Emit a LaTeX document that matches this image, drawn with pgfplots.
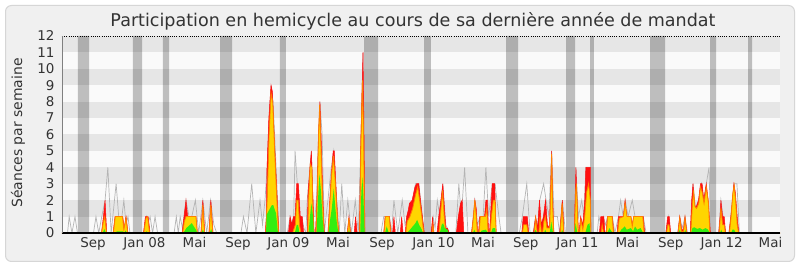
\documentclass[border=0pt]{standalone}
\usepackage{fontspec}
\setmainfont{DejaVu Sans}
\usepackage{pgfplots}
\pgfplotsset{compat=1.18}
\definecolor{outbg}{HTML}{F0F0F0}
\definecolor{framec}{HTML}{D6D6D6}
\definecolor{plotbg}{HTML}{FAFAFA}
\definecolor{bandc}{HTML}{E6E6E6}
\definecolor{greyc}{HTML}{B4B4B4}
\definecolor{redc}{HTML}{FF1010}
\definecolor{yelc}{HTML}{FFD500}
\definecolor{orac}{HTML}{FF7F00}
\definecolor{grnc}{HTML}{33EE11}
\definecolor{textc}{HTML}{333333}
\begin{document}
\begin{tikzpicture}
\useasboundingbox (0,0) rectangle (800bp,267bp);
\fill[white] (0,0) rectangle (800bp,267bp);
\draw[fill=outbg, draw=framec, line width=1bp, rounded corners=6bp] (5.5bp,5.5bp) rectangle (794.5bp,261.5bp);
\node[anchor=base, text=textc, font=\fontsize{17.6}{17.6}\selectfont] at (413bp,240.5bp) {Participation en hemicycle au cours de sa dernière année de mandat};
\node[rotate=90, text=textc, font=\fontsize{14}{14}\selectfont] at (18bp,134bp) {Séances par semaine};
\begin{axis}[
  at={(62bp,34bp)}, anchor=south west,
  scale only axis, width=718bp, height=197bp,
  xmin=0, xmax=260, ymin=0, ymax=12,
  enlargelimits=false,
  axis on top,
  axis x line*=bottom, axis y line*=left,
  x axis line style={-, black, line width=1.3bp},
  y axis line style={-, gray, line width=0.8bp},
  axis background/.style={fill=plotbg},
  major tick length=0pt,
  tick style={draw=none},
  ytick={0,1,2,3,4,5,6,7,8,9,10,11,12},
  xtick={11.23,29.87,47.98,63.73,82.02,99.95,115.88,134.53,152.46,167.95,186.67,204.71,220.46,238.89,256.56},
  xticklabels={Sep,Jan 08,Mai,Sep,Jan 09,Mai,Sep,Jan 10,Mai,Sep,Jan 11,Mai,Sep,Jan 12,Mai},
  /pgf/number format/assume math mode=true,
  tick label style={text=textc, font=\fontsize{13.5}{13.5}\selectfont},
  yticklabel style={xshift=-4bp},
  xticklabel style={yshift=-1bp},
]
% bands
\addplot[draw=none, fill=bandc] coordinates {(0,1)(260,1)(260,2)(0,2)} --cycle;
\addplot[draw=none, fill=bandc] coordinates {(0,3)(260,3)(260,4)(0,4)} --cycle;
\addplot[draw=none, fill=bandc] coordinates {(0,5)(260,5)(260,6)(0,6)} --cycle;
\addplot[draw=none, fill=bandc] coordinates {(0,7)(260,7)(260,8)(0,8)} --cycle;
\addplot[draw=none, fill=bandc] coordinates {(0,9)(260,9)(260,10)(0,10)} --cycle;
\addplot[draw=none, fill=bandc] coordinates {(0,11)(260,11)(260,12)(0,12)} --cycle;
% vacation periods
\addplot[draw=none, fill=black, fill opacity=0.24] coordinates {
(5.79,0)(5.79,12)(9.78,12)(9.78,0)
(25.71,0)(25.71,12)(28.97,12)(28.97,0)
(36.57,0)(36.57,12)(38.75,12)(38.75,0)
(57.22,0)(57.22,12)(61.56,12)(61.56,0)
(78.94,0)(78.94,12)(81.11,12)(81.11,0)
(109.36,0)(109.36,12)(114.43,12)(114.43,0)
(131.09,0)(131.09,12)(133.62,12)(133.62,0)
(160.78,0)(160.78,12)(165.13,12)(165.13,0)
(182.51,0)(182.51,12)(185.77,12)(185.77,0)
(191.2,0)(191.2,12)(192.64,12)(192.64,0)
(212.93,0)(212.93,12)(218.36,12)(218.36,0)
(234.66,0)(234.66,12)(236.83,12)(236.83,0)
(248.42,0)(248.42,12)(249.86,12)(249.86,0)} --cycle;
% total sessions (grey)
\addplot[draw=greyc, line width=0.7bp] coordinates {
(0,0)(2,0)(2.6,1)(3.6,0)(4.7,1)(5.6,0)
(11.4,0)(12.3,1)(13.3,0)(14.4,1)(15.6,2)(16.6,4)(17.8,0)(19.6,3)(21,0)(22.4,2)(23.2,0.5)(23.9,1)(24.6,0)
(29.8,0)(30.6,1)(31.2,0.6)(31.9,1)(32.8,0)(33.7,1)(34.6,0)
(40.6,0)(41.4,1)(42.1,0)(42.8,1)(43.6,0.3)(44.9,2)(46,1)(47,1)(48.3,2)(49.5,0)(51,2)(52.4,0)(53.8,2)(55,0.5)(56,0)
(64.8,0)(65.7,1)(67,0)(68.7,3)(70.2,0)(71.7,2)(72.6,0.5)(73.5,2)(74.3,4)(75,7)(75.7,9)(76.4,8)(77,6)(77.8,3)(78.6,0)
(81.6,0)(82.6,1)(83.3,0.5)(83.9,1)(84.4,5)(85.2,3)(86,1)(86.8,1)(87.6,0.3)(88.3,0)
(88.8,2)(89.8,4)(90.3,5)(91,1)(91.6,1)(92.2,2)(92.9,6)(93.4,8)(94.2,6)(95,0)(95.6,1)(96.3,2)(97.5,4)(98.4,5)(99.5,2)(100.4,0)(101.3,3)(102.4,0)(103.5,2)(104.8,0)(106.2,2)(107.3,0)(108.2,5.5)(109,11)(109.6,0)
(115.5,0)(116.5,1)(118.6,1)(119.3,0)(120.2,2)(121.6,0)(123.2,2)(124.2,0.5)(125,1)(126,1.5)(127,2)(128,3)(129.2,3)(130.5,1)(131.2,0)
(133.7,0)(134.4,1)(135.1,0.3)(135.9,2)(136.8,1)(137.9,3)(139,0.5)(140.2,0)(142.6,0)(143.7,3)(144.6,1)(145.8,4)(147,0)(148.3,0)(149.5,2)(150.5,0.5)(151.3,1)(152.5,1)(153.5,4)(154.5,1)(155.8,3)(156.8,3)(158.2,1)(159,0)
(165.6,0)(166.7,1)(168.3,3)(169.5,0)(170.6,0)(171.5,1)(172.2,0.3)(173,2)(174.4,3)(175.3,2)(176.3,1)(177.3,5)(178.2,1)(179.4,1)(180.2,0)(181.2,2)(182.3,0)
(185.6,0)(186.1,4)(187,1)(188.2,2)(189,1)(189.7,4)(191.3,4)(191.5,0)
(193.8,0)(194.4,1)(195.2,0.5)(196,1)(196.8,0.5)(197.6,1)(199.3,1)(200.2,0)(201.5,1)(202.3,2)(203.2,1)(204,2)(205,1)(206.5,2)(207.5,1)(210.5,1)(211.5,0)
(218.6,0)(219.6,1)(220.4,0)(223,0)(223.7,1)(224.6,0.3)(225.6,1)(226.5,0)(227.6,0)(228.5,3)(229.4,1.5)(230.5,2)(231.6,3)(232.4,2)(233.3,3)(234.3,4)(234.9,0)
(237.8,0)(238.6,2)(239.4,1)(240.3,0)(241.5,0)(242.5,1.5)(243.3,3)(244.4,3)(245.3,0)(260,0)};
% presence (red)
\addplot[draw=redc, line width=0.5bp, fill=redc] coordinates {
(0,0)(14.3,0)(15,1)(15.6,2)(16.2,0)
(18.5,0)(19.2,1)(22,1)(22.5,0.3)(23.2,1)(23.9,0)
(29.5,0)(30.2,1)(31.2,1)(31.9,0)
(43.5,0)(44.2,1)(44.9,2)(45.5,1)(48.5,1)(49,0)(50.3,0)(51,2)(51.7,0)(53.2,0)(53.9,2)(54.7,0)
(73.6,0)(74,1)(74.2,3.8)(74.9,7)(75.4,8.3)(75.7,9)(76.2,8.6)(76.8,6)(77.8,2.5)(78.5,0)
(82,0)(82.6,1)(83.2,0.5)(83.8,1)(84.4,1)(85,3)(85.6,3)(86.3,1)(87,1)(87.5,0)
(88.8,0)(89.1,2.5)(89.8,4)(90.3,5)(90.9,2)(91.3,0)
(91.8,0)(92.3,2)(92.9,6)(93.4,8)(93.9,5.5)(94.5,2)(95,0)
(96.3,0)(96.8,1.5)(97.5,3.5)(98.2,5)(98.6,5)(99.3,2.5)(99.9,0.5)(100.3,0)
(103.3,0)(103.9,1)(104.5,0)(105.8,0)(106.3,1)(106.9,0)
(107.7,0)(108.2,5.5)(108.7,9)(109,11)(109.3,7)(109.7,0)
(116.5,0)(117,1)(118.6,1)(119.1,0)(119.7,0)(120.2,1)(120.7,0)(122.5,0)(123,1)(123.5,0)
(124.3,0)(124.8,1)(125.4,1.4)(125.8,1.8)(126.8,2)(127.8,2.8)(128.4,3)(129.2,3)(129.8,2)(130.5,1)(131.2,0)
(133.7,0)(134.2,1)(134.7,0)
(135.8,0)(136.4,1)(137.2,2)(137.9,3)(138.5,1.5)(139,0.3)(139.6,0.3)(140.2,0)
(142.8,0)(143.5,1)(144.3,1.8)(144.9,2)(145.5,0)
(148.3,0)(149,1)(149.5,2)(150,1.5)(150.5,0)
(150.8,0)(151.3,1)(153,1)(153.5,2)(154,2)(154.5,0)
(154.8,0)(155.3,1.5)(155.8,3)(156.7,3)(157.2,0)
(166.5,0)(167,1)(168.5,1)(169,0)
(170.7,0)(171.5,1)(172.2,0.3)(172.9,2)(173.6,0.5)(174.3,1)(175.1,2)(175.8,0.5)(176.5,0.3)(177,3)(177.3,5)(177.7,2)(178.1,0)
(180.2,0)(180.8,1.2)(181.2,2)(181.8,0)
(185.5,0)(185.8,2)(186.1,4)(186.5,2)(187,0)
(187.2,0)(187.8,1)(188.6,0.5)(189.3,2)(189.7,4)(191.3,4)(191.5,0)
(194.6,0)(195.1,1)(196.2,1)(196.6,0)
(197,0)(197.5,1)(199.3,1)(199.8,0)
(201,0)(201.5,1)(203.3,1)(203.9,2)(204.5,1)(206,1)(206.5,0.5)(207,1)(210.5,1)(211,0)
(218.7,0)(219.3,1)(219.9,1)(220.4,0)
(223,0)(223.7,1)(224.4,0.2)(225,0.2)(225.6,1)(226.3,0)
(227.5,0)(228,2)(228.5,3)(229,1.8)(229.5,1.5)(230.5,2)(231.2,3)(231.8,3)(232.4,2)(233.3,3)(234,2)(234.8,0)
(237.8,0)(238.3,1)(238.6,2)(239.2,1)(239.8,1)(240.3,0)
(241.5,0)(242.2,1)(242.8,2)(243.3,3)(243.8,2.5)(244.5,1)(245.1,0)
(260,0)} \closedcycle;
% interventions (yellow / orange)
\addplot[draw=orac, line width=0.8bp, fill=yelc] coordinates {
(0,0)(14.3,0)(15,0.7)(15.5,1)(16.1,0)
(18.6,0)(19.3,1)(21.9,1)(22.4,0.2)(23.2,0.9)(23.8,0)
(29.6,0)(30.4,0.9)(31,1)(31.7,0)
(43.7,0)(44.3,0.7)(44.9,1)(48.5,1)(49,0)(50.4,0)(51,1.7)(51.6,0)(53.3,0)(53.9,1.7)(54.6,0)
(73.8,0)(74.3,2)(75,6)(75.7,8.5)(76.3,8)(77,5)(77.8,2)(78.4,0)
(83.5,0)(84.5,0.5)(85,2)(85.5,2)(86,0.5)(86.5,0)
(89,0)(89.3,2)(89.9,4.2)(90.5,4)(91,0.5)(91.3,0)
(92,0)(92.4,2)(92.9,6)(93.3,7.8)(93.8,5)(94.4,1.8)(94.9,0)
(96.4,0)(96.9,1.5)(97.6,3.5)(98.3,4.7)(99,3)(99.7,1)(100.2,0)
(103.4,0)(103.9,0.9)(104.4,0)
(107.8,0)(108.2,5)(108.8,9.3)(109.2,6)(109.6,0)
(116.6,0)(117.1,1)(118.5,1)(119,0)
(124.5,0)(125,0.7)(126,1)(127,1.5)(128,2.3)(128.8,2.8)(129.5,2)(130.3,1)(131,0)
(134,0)(134.3,0.5)(134.6,0)
(136.5,0)(137,1)(137.8,2.6)(138.4,1)(139,0)
(148.4,0)(149,1)(149.5,2)(150,1)(150.4,0)
(151,0)(151.5,1)(153.3,1)(153.8,1.5)(154.3,0)
(155,0)(155.5,1)(156.2,2)(156.8,2)(157.2,0)
(166.7,0)(167.2,0.5)(168.3,0.5)(168.8,0)
(171,0)(171.5,0.9)(172.1,0)(172.7,0)(173.1,1)(173.6,0)(174,0)(174.5,0.7)(175,1)(175.6,0.3)(176.6,0.3)(177,2.5)(177.3,4.8)(177.7,1.5)(178.1,0)
(180.4,0)(181.1,1.8)(181.7,0)
(185.6,0)(186,2.5)(186.3,3)(186.7,1)(187,0)
(187.4,0)(187.9,0.8)(188.6,0.2)(189.3,1)(190,2.5)(190.7,3)(191.3,2)(191.5,0)
(195.2,0)(195.6,0.5)(196.1,0)
(197.1,0)(197.6,1)(199.2,1)(199.7,0)
(201.2,0)(201.8,0.9)(203.3,1)(203.9,1.8)(204.6,1)(206,1)(206.5,0.4)(207,1)(210.3,1)(210.8,0)
(218.9,0)(219.4,0.5)(219.8,0.5)(220.2,0)
(223.1,0)(223.7,0.9)(224.3,0.1)(225.1,0.1)(225.6,0.9)(226.2,0)
(227.7,0)(228.2,1.5)(228.7,2.6)(229.2,1.6)(229.8,1.5)(230.6,1.8)(231.2,2.8)(231.8,2.5)(232.5,1.8)(233.3,2.8)(234.1,1.8)(234.6,0)
(238,0)(238.6,1.5)(239.2,0.5)(239.8,0.5)(240.2,0)
(241.7,0)(242.3,1)(242.9,2.4)(243.4,2.9)(243.9,2)(244.5,0.5)(245,0)
(260,0)} \closedcycle;
% green
\addplot[draw=none, fill=grnc] coordinates {
(0,0)(14.8,0)(15.3,0.25)(15.9,0)
(19,0)(20,0.1)(22,0.1)(22.5,0)(23,0.15)(23.6,0)
(30,0)(30.6,0.1)(31.2,0)
(44,0)(45,0.3)(47,0.6)(48.5,0.2)(49,0)(50.6,0)(51,0.2)(51.5,0)(53.5,0)(54,0.25)(54.5,0)
(73.9,0)(74.1,1.1)(75,1.4)(76,1.7)(76.5,1.7)(77.5,1.2)(78.2,0)
(84.3,0)(85,0.5)(85.5,0.5)(86,0)
(89.3,0)(89.8,1)(90.3,1.8)(90.9,1)(91.2,0)
(92.2,0)(92.7,2)(93.2,3.6)(93.8,2.5)(94.4,0.8)(94.9,0)
(96.5,0)(97,0.7)(97.7,1.5)(98.4,2.7)(99,1.5)(99.6,0.5)(100.1,0)
(103.6,0)(103.9,0.2)(104.2,0)
(108,0)(108.4,2.5)(108.8,3.4)(109.2,2)(109.6,0)
(117,0)(117.6,0.4)(118.3,0)
(125,0)(126,0.2)(127,0.4)(128,0.6)(128.6,0.8)(129.3,0.5)(130,0.3)(130.8,0)
(136.8,0)(137.5,0.5)(138,0.6)(138.6,0.3)(139.6,0.2)(140,0)
(148.8,0)(149.3,0.2)(149.8,0)
(151.3,0)(152,0.15)(153.5,0.2)(154.2,0)
(155.3,0)(156,0.3)(156.8,0.3)(157.1,0)
(171,0)(171.5,0.2)(172,0)(174.5,0)(175,0.2)(175.5,0)
(176.6,0)(177.2,0.7)(177.8,0)
(180.8,0)(181.1,0.2)(181.5,0)
(185.6,0)(186,0.6)(186.6,0)
(189.5,0)(190.3,0.5)(191,0.6)(191.4,0)
(197.5,0)(198.2,0.3)(199,0.1)(199.5,0)
(201.8,0)(202.5,0.2)(203.8,0.4)(204.5,0.2)(206,0.3)(206.8,0.1)(207.5,0.4)(208.3,0.2)(209.5,0.3)(210.5,0)
(223.3,0)(223.7,0.2)(224.1,0)(225.3,0)(225.7,0.2)(226,0)
(227.8,0)(228.3,0.3)(229,0.35)(230,0.25)(231,0.3)(232,0.2)(233,0.3)(234,0.2)(234.5,0)
(238.3,0)(238.7,0.2)(239.2,0)
(242.3,0)(242.8,0.2)(243.4,0.2)(244,0)
(260,0)} \closedcycle;
% top dotted line
\addplot[draw=black, line width=0.8bp, dash pattern=on 1bp off 1.2bp] coordinates {(0,12)(260,12)};
\end{axis}
\end{tikzpicture}
\end{document}
